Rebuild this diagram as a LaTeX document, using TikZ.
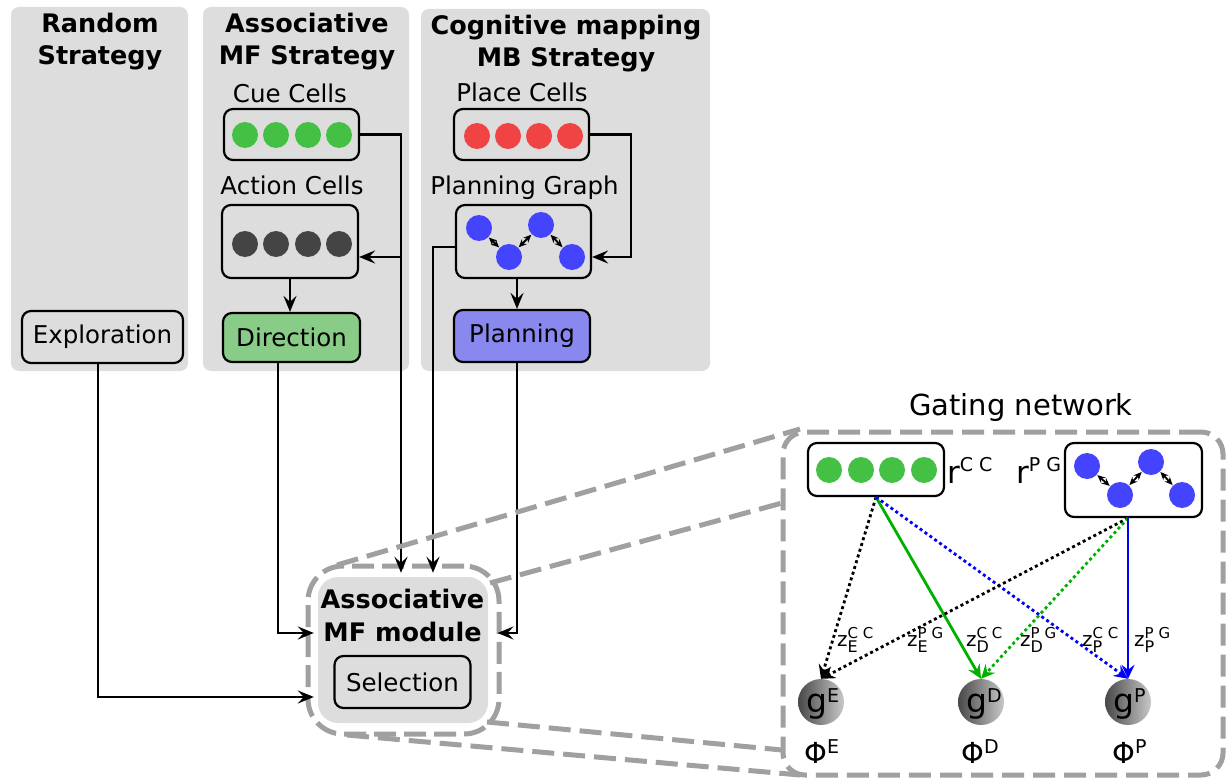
\documentclass[tikz,border=0pt]{standalone}
\usepackage{fontspec}
\setmainfont{DejaVu Sans}
\usetikzlibrary{arrows.meta,calc}
\definecolor{panelgray}{RGB}{221,221,221}
\definecolor{dashgray}{RGB}{160,160,160}
\definecolor{cuegreen}{RGB}{68,192,68}
\definecolor{actgray}{RGB}{68,68,68}
\definecolor{placered}{RGB}{240,68,68}
\definecolor{pgblue}{RGB}{68,68,255}
\definecolor{dirgreen}{RGB}{136,204,136}
\definecolor{planblue}{RGB}{136,136,238}
\definecolor{linegreen}{RGB}{0,176,0}
\definecolor{lineblue}{RGB}{0,0,255}
\definecolor{gdark}{RGB}{72,72,72}
\definecolor{glight}{RGB}{200,200,200}
\newcommand{\fs}[2]{\fontsize{#1}{#2}\selectfont}
\newcommand{\zlab}[2]{{\fs{20}{20}z}\rlap{\raisebox{8pt}{\fs{15}{15}#1}}\raisebox{-6pt}{\fs{16}{16}#2}}
\newcommand{\rlab}[1]{{\fs{31}{31}r}\raisebox{12pt}{\fs{19}{19}#1}}
\newcommand{\glab}[1]{{\fs{33}{33}g}\raisebox{10pt}{\fs{19}{19}#1}}
\newcommand{\philab}[1]{{\fs{29}{29}Φ}\raisebox{10pt}{\fs{19}{19}#1}}
\tikzset{
 panel/.style={fill=panelgray, rounded corners=8pt, draw=none, inner sep=0pt},
 box/.style={draw=black, line width=2.2pt, rounded corners=9pt, inner sep=0pt, font=\fs{24.5}{30}},
 cell/.style={circle, inner sep=0pt, minimum size=26pt, draw=none},
 lbl/.style={inner sep=0pt, anchor=base, font=\fs{24.5}{30}},
 ttl/.style={inner sep=0pt, anchor=base, font=\fs{25.5}{32}\bfseries},
 conn/.style={line width=2.4pt, -{Stealth[length=16pt,width=13pt,inset=6pt]}},
 mini/.style={line width=1.8pt, {Stealth[length=8pt,width=7pt]}-{Stealth[length=8pt,width=7pt]}, shorten <=0.5pt, shorten >=0.5pt},
 zoomline/.style={draw=dashgray, line width=5pt, dash pattern=on 22pt off 9pt},
 gate/.style={line width=2.8pt, -{Stealth[length=14pt,width=13pt,inset=5pt]}},
 dots/.style={dash pattern=on 3pt off 3pt},
 gball/.style={circle, inner sep=0pt, minimum size=46pt, left color=gdark, right color=glight, draw=none},
 tx/.style={inner sep=0pt, anchor=base west},
}
\begin{document}
\begin{tikzpicture}[x=1pt,y=-1pt]
\useasboundingbox (0,0) rectangle (1228,778);
% panels
\node[panel, minimum width=177, minimum height=364] (p1) at (99.5,189) {};
\node[panel, minimum width=206, minimum height=364] (p2) at (306,189) {};
\node[panel, minimum width=289, minimum height=362] (p3) at (565.5,190) {};
% titles
\node[ttl] (t1a) at (100,33) {Random};
\node[ttl] (t1b) at (100,65) {Strategy};
\node[ttl] (t2a) at (307,33) {Associative};
\node[ttl] (t2b) at (307,65) {MF Strategy};
\node[ttl] (t3a) at (566,35) {Cognitive mapping};
\node[ttl] (t3b) at (566,67) {MB Strategy};
% labels
\node[lbl] (lcue) at (290,103) {Cue Cells};
\node[lbl] (lact) at (292,195) {Action Cells};
\node[lbl] (lplace) at (522,102) {Place Cells};
\node[lbl] (lgraph) at (524.5,195) {Planning Graph};
% boxes
\node[box, minimum width=135, minimum height=51] (cue) at (291.5,134.5) {};
\node[box, minimum width=136, minimum height=73] (action) at (290,241.5) {};
\node[box, fill=dirgreen, minimum width=137, minimum height=49] (direction) at (291.5,337.5) {Direction};
\node[box, minimum width=161, minimum height=52] (explor) at (102.5,337) {Exploration};
\node[box, minimum width=135, minimum height=51] (place) at (521.5,134.5) {};
\node[box, minimum width=135, minimum height=73] (graph) at (523.5,241.5) {};
\node[box, fill=planblue, minimum width=136, minimum height=52] (planning) at (522,336) {Planning};
% cells
\foreach \i/\x in {1/245,2/276,3/308,4/339}{
  \node[cell, fill=cuegreen] (cc\i) at (\x,135) {};
  \node[cell, fill=actgray] (ac\i) at (\x,244) {};
}
\foreach \i/\x in {1/477,2/508,3/539,4/570}{
  \node[cell, fill=placered] (pc\i) at (\x,136) {};
}
\node[cell, fill=pgblue] (pg1) at (479,228) {};
\node[cell, fill=pgblue] (pg2) at (509,257) {};
\node[cell, fill=pgblue] (pg3) at (541,225) {};
\node[cell, fill=pgblue] (pg4) at (572,257) {};
\draw[mini] (pg1) -- (pg2);
\draw[mini] (pg2) -- (pg3);
\draw[mini] (pg3) -- (pg4);
% module
\node[draw=dashgray, line width=5pt, dash pattern=on 22pt off 8pt, rounded corners=35pt, minimum width=191, minimum height=168, inner sep=0pt] (modb) at (403.5,650) {};
\node[panel, rounded corners=20pt, minimum width=170, minimum height=146] (module) at (403,650) {};
\node[ttl] (mta) at (402.5,608) {Associative};
\node[ttl] (mtb) at (402.5,641) {MF module};
\node[box, minimum width=136, minimum height=52] (selection) at (402.5,682) {Selection};
% connector helpers
\coordinate (cuecorner) at (401,134.5);
\coordinate (placecorner) at (631,134.5);
\coordinate (lv257) at (0,257);
\coordinate (graphleft) at (433,247);
\coordinate (plx) at (517,0);
\coordinate (dirx) at (278,0);
\coordinate (expx) at (98,0);
\coordinate (ml1) at (0,633);
\coordinate (ml2) at (0,697);
% connectors
\draw[conn, shorten >=4pt] (cue.east) -- (cuecorner) -- (cuecorner |- module.north);
\draw[conn] (cuecorner |- lv257) -- (action.east |- lv257);
\draw[conn] (action.south) -- (action.south |- direction.north);
\draw[conn] (place.east) -- (placecorner) -- (placecorner |- lv257) -- (graph.east |- lv257);
\draw[conn] (graph.south -| plx) -- (planning.north -| plx);
\draw[conn, shorten >=4pt] (graph.west |- graphleft) -- (graphleft) -- (graphleft |- module.north);
\draw[conn, shorten >=-4pt] (planning.south -| plx) -- (plx |- ml1) -- (modb.east |- ml1);
\draw[conn, shorten >=4pt] (direction.south -| dirx) -- (dirx |- ml1) -- (module.west |- ml1);
\draw[conn, shorten >=4pt] (explor.south -| expx) -- (expx |- ml2) -- (module.west |- ml2);
% gating network
\node[draw=dashgray, line width=5pt, dash pattern=on 22pt off 9pt, rounded corners=22pt, minimum width=440, minimum height=343, inner sep=0pt] (gating) at (1003,603.5) {};
\node[inner sep=0pt, anchor=base, font=\fs{29}{34}] (gtitle) at (1021,415) {Gating network};
\coordinate (za1) at (337,565);
\coordinate (zb1) at (800,429);
\coordinate (za2) at (490,583);
\coordinate (zb2) at (782,503);
\coordinate (za3) at (487,722);
\coordinate (zb3) at (782,750);
\coordinate (za4) at (347,735);
\coordinate (zb4) at (800,775);
\draw[zoomline] (za1) -- (zb1);
\draw[zoomline] (za2) -- (zb2);
\draw[zoomline] (za3) -- (zb3);
\draw[zoomline] (za4) -- (zb4);
% gating contents
\node[box, minimum width=136, minimum height=53] (rcc) at (876,469.5) {};
\node[box, minimum width=137, minimum height=74] (rpg) at (1133.5,480) {};
\foreach \i/\x in {1/829,2/861,3/892,4/924}{
  \node[cell, fill=cuegreen] (gc\i) at (\x,470) {};
}
\node[cell, fill=pgblue] (gp1) at (1087,466) {};
\node[cell, fill=pgblue] (gp2) at (1120,495) {};
\node[cell, fill=pgblue] (gp3) at (1151,462) {};
\node[cell, fill=pgblue] (gp4) at (1182,495) {};
\draw[mini] (gp1) -- (gp2);
\draw[mini] (gp2) -- (gp3);
\draw[mini] (gp3) -- (gp4);
\node[tx] (rcclab) at (947,483) {\rlab{C C}};
\node[tx] (rpglab) at (1016,483) {\rlab{P G}};
\node[gball] (gE) at (821,702) {};
\node[gball] (gD) at (981,702) {};
\node[gball] (gP) at (1128,702) {};
\node[tx] (gEl) at (806,712) {\glab{E}};
\node[tx] (gDl) at (966,712) {\glab{D}};
\node[tx] (gPl) at (1113,712) {\glab{P}};
\node[tx] (phE) at (804,763) {\philab{E}};
\node[tx] (phD) at (961,763) {\philab{D}};
\node[tx] (phP) at (1112,763) {\philab{P}};
\coordinate (rpgout) at (rpg.south -| gP);
\draw[gate, dots, black] (rcc.south) -- (gE.north);
\draw[gate, linegreen] (rcc.south) -- (gD.north);
\draw[gate, dots, lineblue] (rcc.south) -- (gP.north);
\draw[gate, dots, black] (rpgout) -- (gE.north);
\draw[gate, dots, linegreen] (rpgout) -- (gD.north);
\draw[gate, lineblue] (rpgout) -- (gP.north);
\node[tx] (z1) at (837,646) {\zlab{C C}{E}};
\node[tx] (z2) at (907,646) {\zlab{P G}{E}};
\node[tx] (z3) at (966,646) {\zlab{C C}{D}};
\node[tx] (z4) at (1020,646) {\zlab{P G}{D}};
\node[tx] (z5) at (1082,646) {\zlab{C C}{P}};
\node[tx] (z6) at (1134,646) {\zlab{P G}{P}};
\end{tikzpicture}
\end{document}
